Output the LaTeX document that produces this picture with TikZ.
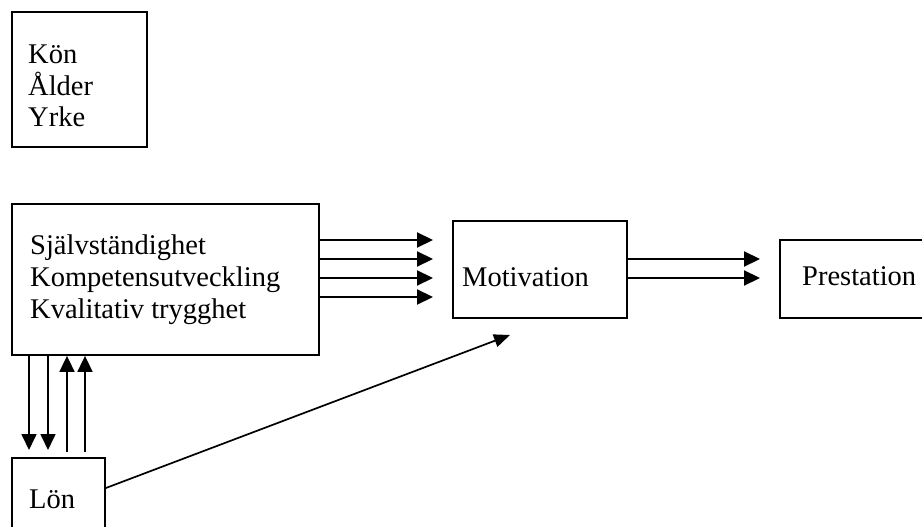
\documentclass[tikz,border=0pt]{standalone}
\usepackage{fontspec}
\setmainfont{Liberation Serif}
\usetikzlibrary{
    arrows.meta,
    calc
}

\tikzset{
    ruta/.style={draw, line width=1.9pt, inner sep=0pt, anchor=north west},
    etikett/.style={align=left, inner sep=0pt, anchor=base west,
        font=\fontsize{28.5}{32}\selectfont},
    pil/.style={line width=2.2pt, -{Triangle[length=16pt,width=15pt]}},
    tunnpil/.style={line width=1.7pt, -{Triangle[length=16pt,width=15pt]}}
}

\begin{document}
\begin{tikzpicture}[x=1pt,y=-1pt]

\useasboundingbox (0,0) rectangle (922,527);
\clip (0,0) rectangle (922,527);

% Boxes
\node[ruta, minimum width=135pt, minimum height=135pt] (bakgrund) at (11,11) {};
\node[ruta, minimum width=307pt, minimum height=151pt] (faktorer) at (11,203) {};
\node[ruta, minimum width=174pt, minimum height=97pt] (motiv) at (452,220) {};
\node[ruta, minimum width=170pt, minimum height=78pt] (prest) at (779,239) {};
\node[ruta, minimum width=93pt, minimum height=100pt] (lon) at (11,457) {};

% Texts (base = last line)
\node[etikett] (bakgrundtext) at (28,127) {Kön\\Ålder\\Yrke};
\node[etikett] (faktorertext) at (30,318) {Självständighet\\Kompetensutveckling\\Kvalitativ trygghet};
\node[etikett] (motivtext) at (462,286) {Motivation};
\node[etikett] (presttext) at (802,285) {Prestation};
\node[etikett] (lontext) at (29,508) {Lön};

% Faktorer -> Motivation
\foreach \y in {240,259,278,297}
    \draw[pil, shorten >=19pt] (faktorer.east |- 0,\y) -- (motiv.west |- 0,\y);

% Motivation -> Prestation
\foreach \y in {259,278}
    \draw[pil, shorten >=19pt] (motiv.east |- 0,\y) -- (prest.west |- 0,\y);

% Faktorer <-> Lon
\foreach \x in {29,48}
    \draw[tunnpil, shorten >=7pt] (faktorer.south -| \x,0) -- (lon.north -| \x,0);
\foreach \x in {67,85}
    \draw[tunnpil, shorten <=5pt] (lon.north -| \x,0) -- (faktorer.south -| \x,0);

% Lon -> Motivation
\coordinate (pilspets) at (510,335);
\draw[tunnpil, -{Triangle[length=16pt,width=13pt]}] ($(lon.north east)+(0,31)$) -- (pilspets);

\end{tikzpicture}
\end{document}
